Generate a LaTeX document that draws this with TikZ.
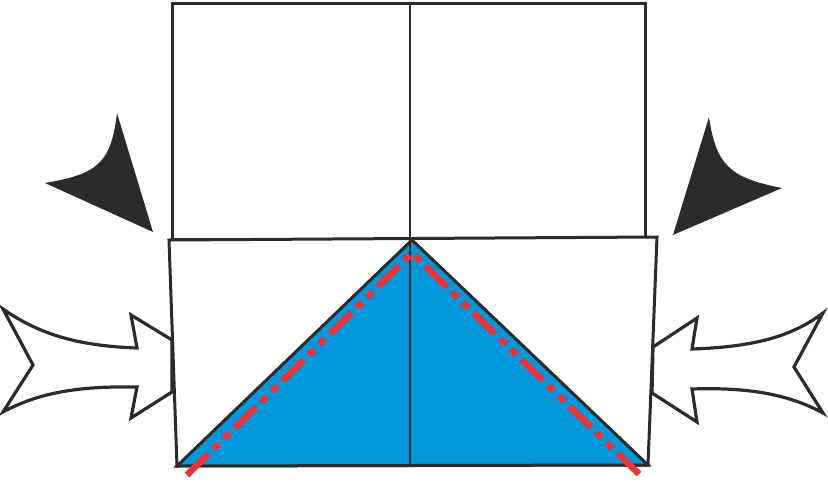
\documentclass[tikz,border=0pt]{standalone}
\definecolor{inkgray}{HTML}{2B2B2B}
\definecolor{flapblue}{HTML}{0098DA}
\definecolor{foldred}{HTML}{EE3338}

\begin{document}
\begin{tikzpicture}
        [
            x = 1pt, y = -1pt,
            paper/.style = {draw=inkgray, fill=white, line width=3pt, line join=miter},
            crease/.style = {draw=inkgray, line width=1.3pt},
            flap/.style = {draw=inkgray, fill=flapblue, line width=3pt, line join=miter},
            foldline/.style = {draw=foldred, line width=6.5pt,
                dash pattern=on 30pt off 7pt on 8pt off 7pt on 8pt off 7pt},
            pushhead/.style = {fill=inkgray},
            pushshaft/.style = {draw=inkgray, fill=white, line width=3.2pt, line join=miter}
        ]
        \useasboundingbox (0,0) rectangle (828,482);

        % upper square, folded behind
        \coordinate (UL) at (172,3);
        \coordinate (UR) at (645,3);
        \coordinate (ULb) at (172,239);
        \coordinate (URb) at (645,239);
        \draw [paper] (UL) -- (UR) -- (URb) -- (ULb) -- cycle;
        \draw [paper, line width=2.3pt] (410,3) -- (410,239);

        % push arrows
        \draw [pushshaft] (3,309) .. controls (40,335) and (80,346) .. (137,348)
            -- (131,315) -- (172,340) -- (172,392) -- (131,418) -- (137,387)
            .. controls (80,386) and (40,392) .. (3,412) -- (33,365) -- cycle;
        \draw [pushshaft] (823,313) .. controls (790,338) and (750,347) .. (692,349)
            -- (697,318) -- (653,347) -- (652,393) -- (697,422) -- (692,389)
            .. controls (750,387) and (790,395) .. (823,413) -- (794,367) -- cycle;

        % lower layer
        \coordinate (LL) at (169,240);
        \coordinate (LR) at (657,237);
        \coordinate (LRb) at (648,465);
        \coordinate (LLb) at (177,466);
        \coordinate (Apex) at (412,240);
        \draw [paper] (LL) -- (LR) -- (LRb) -- (LLb) -- cycle;
        \draw [flap] (Apex) -- (LRb) -- (LLb) -- cycle;
        \draw [crease] (410,240) -- (410,466);
        \draw [foldline] (187,475) -- (412,253) -- (640,475);

        % turn-over heads
        \fill [pushhead] (117,113) .. controls (111,163) and (98,174) .. (45,183)
            -- (153,232) -- cycle;
        \fill [pushhead] (709,117) .. controls (716,165) and (730,178) .. (782,188)
            -- (673,235) -- cycle;
    \end{tikzpicture}
\end{document}
